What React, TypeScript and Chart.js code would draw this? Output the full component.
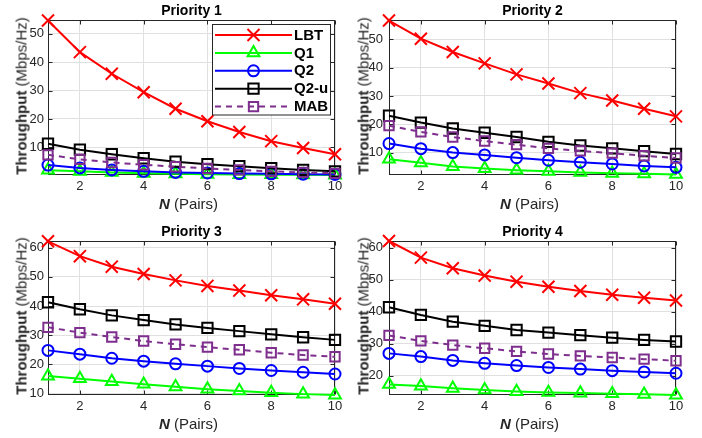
import React, { useEffect, useRef } from "react";
import { Chart, registerables } from "chart.js";
Chart.register(...registerables);

// ---------- data ----------
const N = [1, 2, 3, 4, 5, 6, 7, 8, 9, 10];
const seriesNames = ["LBT", "Q1", "Q2", "Q2-u", "MAB"];
const xTicks = [2, 4, 6, 8, 10];

const p1LBT = [54.6, 43.5, 35.9, 29.4, 23.6, 19.2, 15.4, 12.2, 9.8, 7.6];
const p1Q1 = [2.0, 1.6, 1.2, 0.9, 0.7, 0.55, 0.45, 0.4, 0.35, 0.3];
const p1Q2 = [3.8, 2.8, 2.1, 1.6, 1.2, 1.0, 0.8, 0.7, 0.6, 0.5];
const p1Q2u = [11.3, 9.2, 7.6, 6.2, 5.0, 4.1, 3.4, 2.7, 2.1, 1.6];
const p1MAB = [7.4, 5.8, 4.7, 3.9, 3.2, 2.6, 2.1, 1.6, 1.2, 0.9];
const p1YTicks = [10, 20, 30, 40, 50];
const p1YRange = [0.3, 54.8];

const p2LBT = [56.6, 50.2, 45.5, 41.5, 37.6, 34.4, 31.0, 28.4, 25.5, 22.8];
const p2Q1 = [7.7, 6.4, 5.1, 4.4, 3.8, 3.4, 3.0, 2.7, 2.5, 2.3];
const p2Q2 = [13.2, 11.4, 10.0, 9.2, 8.2, 7.3, 6.6, 6.0, 5.3, 4.8];
const p2Q2u = [23.0, 20.6, 18.5, 17.0, 15.5, 13.8, 12.5, 11.5, 10.5, 9.5];
const p2MAB = [19.5, 17.3, 15.5, 14.1, 12.8, 11.5, 10.6, 9.8, 8.9, 8.1];
const p2YTicks = [10, 20, 30, 40, 50];
const p2YRange = [2.1, 56.8];

const p3LBT = [62.2, 57.1, 53.5, 51.0, 48.8, 46.9, 45.3, 43.7, 42.3, 40.8];
const p3Q1 = [16.0, 15.1, 14.1, 13.2, 12.3, 11.5, 10.9, 10.3, 9.8, 9.5];
const p3Q2 = [24.8, 23.5, 22.1, 21.1, 20.2, 19.4, 18.6, 17.9, 17.3, 16.7];
const p3Q2u = [41.3, 38.9, 36.8, 35.2, 33.7, 32.5, 31.4, 30.3, 29.3, 28.4];
const p3MAB = [32.7, 30.9, 29.4, 28.0, 26.9, 25.9, 25.0, 24.0, 23.2, 22.6];
const p3YTicks = [10, 20, 30, 40, 50, 60];
const p3YRange = [9.5, 62.3];

const p4LBT = [62.1, 56.9, 53.6, 51.3, 49.4, 47.8, 46.5, 45.3, 44.4, 43.5];
const p4Q1 = [17.3, 16.8, 16.1, 15.6, 15.1, 14.8, 14.6, 14.4, 14.2, 14.0];
const p4Q2 = [27.0, 26.0, 24.8, 23.9, 23.2, 22.6, 22.1, 21.6, 21.2, 20.8];
const p4Q2u = [41.4, 39.0, 36.9, 35.6, 34.3, 33.5, 32.7, 31.9, 31.2, 30.7];
const p4MAB = [32.6, 30.9, 29.6, 28.6, 27.6, 26.8, 26.2, 25.7, 25.2, 24.7];
const p4YTicks = [20, 30, 40, 50, 60];
const p4YRange = [14.0, 62.1];

// ---------- styles ----------
const FONT = '"Liberation Sans", Arial, Helvetica, sans-serif';
const TXT = "#262626";
const GRID = "#e0e0e0";
const seriesStyles = [
  { color: "#FF0000", point: "crossRot", radius: 8.5, dash: [] as number[] },
  { color: "#00FF00", point: "triangle", radius: 6.8, dash: [] as number[] },
  { color: "#0000FF", point: "circle", radius: 5.5, dash: [] as number[] },
  { color: "#000000", point: "rect", radius: 7.3, dash: [] as number[] },
  { color: "#7E2F8E", point: "rect", radius: 6.6, dash: [6, 5] },
];

type Panel = {
  title: string;
  series: number[][];
  yTicks: number[];
  yRange: number[];
  left: number; top: number; w: number; h: number;
  areaL: number; areaT: number; areaR: number; areaB: number;
  yPad: number;
  legend: boolean;
};

const panels: Panel[] = [
  { title: "Priority 1", series: [p1LBT, p1Q1, p1Q2, p1Q2u, p1MAB], yTicks: p1YTicks, yRange: p1YRange,
    left: 0, top: 0, w: 351, h: 219, areaL: 48, areaT: 20, areaR: 335, areaB: 175, yPad: 4, legend: true },
  { title: "Priority 2", series: [p2LBT, p2Q1, p2Q2, p2Q2u, p2MAB], yTicks: p2YTicks, yRange: p2YRange,
    left: 351, top: 0, w: 351, h: 219, areaL: 38, areaT: 20, areaR: 325, areaB: 175, yPad: 6, legend: false },
  { title: "Priority 3", series: [p3LBT, p3Q1, p3Q2, p3Q2u, p3MAB], yTicks: p3YTicks, yRange: p3YRange,
    left: 0, top: 219, w: 351, h: 219, areaL: 48, areaT: 22, areaR: 335, areaB: 176, yPad: 4, legend: false },
  { title: "Priority 4", series: [p4LBT, p4Q1, p4Q2, p4Q2u, p4MAB], yTicks: p4YTicks, yRange: p4YRange,
    left: 351, top: 219, w: 351, h: 219, areaL: 38, areaT: 22, areaR: 325, areaB: 176, yPad: 6, legend: false },
];

function drawMarker(ctx: CanvasRenderingContext2D, kind: string, x: number, y: number, r: number) {
  ctx.beginPath();
  if (kind === "crossRot") {
    const o = Math.SQRT1_2 * r;
    ctx.moveTo(x - o, y - o); ctx.lineTo(x + o, y + o);
    ctx.moveTo(x + o, y - o); ctx.lineTo(x - o, y + o);
  } else if (kind === "triangle") {
    ctx.moveTo(x, y - r);
    ctx.lineTo(x + r * Math.cos(Math.PI / 6), y + r / 2);
    ctx.lineTo(x - r * Math.cos(Math.PI / 6), y + r / 2);
    ctx.closePath();
  } else if (kind === "circle") {
    ctx.arc(x, y, r, 0, Math.PI * 2);
  } else {
    const s = Math.SQRT1_2 * r;
    ctx.rect(x - s, y - s, 2 * s, 2 * s);
  }
  ctx.stroke();
}

const framePlugin = {
  id: "frame",
  beforeDatasetsDraw(chart: any) {
    const { ctx, chartArea: a, scales } = chart;
    ctx.save();
    ctx.strokeStyle = TXT;
    ctx.lineWidth = 1;
    ctx.setLineDash([]);
    const L = Math.round(a.left) + 0.5, R = Math.round(a.right) - 0.5;
    const T = Math.round(a.top) + 0.5, B = Math.round(a.bottom) - 0.5;
    ctx.strokeRect(L, T, R - L, B - T);
    const tl = 4;
    ctx.beginPath();
    scales.x.ticks.forEach((t: any) => {
      const px = Math.round(scales.x.getPixelForValue(t.value)) + 0.5;
      ctx.moveTo(px, B); ctx.lineTo(px, B - tl);
      ctx.moveTo(px, T); ctx.lineTo(px, T + tl);
    });
    scales.y.ticks.forEach((t: any) => {
      const py = Math.round(scales.y.getPixelForValue(t.value)) + 0.5;
      ctx.moveTo(L, py); ctx.lineTo(L + tl, py);
      ctx.moveTo(R, py); ctx.lineTo(R - tl, py);
    });
    ctx.stroke();
    ctx.restore();
  },
};

const legendPlugin = {
  id: "insetLegend",
  afterDraw(chart: any) {
    if (!chart.options.plugins.insetLegend?.show) return;
    const ctx: CanvasRenderingContext2D = chart.ctx;
    const bx = 212.5, by = 24.5, bw = 118, bh = 90.5;
    ctx.save();
    ctx.fillStyle = "#ffffff";
    ctx.fillRect(bx, by, bw, bh);
    ctx.strokeStyle = TXT;
    ctx.lineWidth = 1;
    ctx.strokeRect(bx, by, bw, bh);
    seriesNames.forEach((name, i) => {
      const st = seriesStyles[i];
      const y = 35 + i * 17.9;
      ctx.strokeStyle = st.color;
      ctx.lineWidth = 2;
      ctx.setLineDash(st.dash);
      ctx.beginPath();
      ctx.moveTo(215, y); ctx.lineTo(292, y);
      ctx.stroke();
      ctx.setLineDash([]);
      drawMarker(ctx, st.point, 253.5, y, st.radius);
      ctx.fillStyle = "#000000";
      ctx.font = `bold 15px ${FONT}`;
      ctx.textBaseline = "middle";
      ctx.textAlign = "left";
      ctx.fillText(name, 294, y + 0.5);
    });
    ctx.restore();
  },
};

function PanelChart({ p }: { p: Panel }) {
  const ref = useRef<HTMLCanvasElement | null>(null);
  useEffect(() => {
    if (!ref.current) return;
    const datasets = p.series.map((vals, i) => {
      const st = seriesStyles[i];
      return {
        label: seriesNames[i],
        data: N.map((n, k) => ({ x: n, y: vals[k] })),
        borderColor: st.color,
        backgroundColor: "rgba(0,0,0,0)",
        borderWidth: 2,
        borderDash: st.dash,
        pointStyle: st.point,
        pointRadius: st.radius,
        pointBorderWidth: 2,
        pointBorderColor: st.color,
        pointBackgroundColor: "rgba(0,0,0,0)",
        tension: 0,
        clip: false as any,
        order: 5 - i,
      };
    });
    const chart = new Chart(ref.current, {
      type: "line",
      data: { datasets },
      plugins: [framePlugin, legendPlugin],
      options: {
        responsive: false,
        animation: false,
        events: [],
        layout: { padding: { top: p.areaT, right: p.w - p.areaR, left: 0, bottom: 0 } },
        plugins: {
          legend: { display: false },
          title: { display: false },
          tooltip: { enabled: false },
          insetLegend: { show: p.legend },
        } as any,
        scales: {
          x: {
            type: "linear",
            min: 1,
            max: 10,
            afterBuildTicks: (s: any) => { s.ticks = xTicks.map((v) => ({ value: v })); },
            afterFit: (s: any) => { s.height = p.h - p.areaB; },
            grid: { color: GRID, drawTicks: false, lineWidth: 1 },
            border: { display: false },
            ticks: { padding: 4, color: TXT, font: { size: 13, family: FONT }, maxRotation: 0, autoSkip: false },
          },
          y: {
            type: "linear",
            min: p.yRange[0],
            max: p.yRange[1],
            afterBuildTicks: (s: any) => { s.ticks = p.yTicks.map((v) => ({ value: v })); },
            afterFit: (s: any) => { s.width = p.areaL; },
            grid: { color: GRID, drawTicks: false, lineWidth: 1 },
            border: { display: false },
            ticks: { padding: p.yPad, color: TXT, font: { size: 13, family: FONT }, autoSkip: false },
          },
        },
      },
    } as any);
    return () => chart.destroy();
  }, [p]);
  return (
    <canvas
      ref={ref}
      width={p.w}
      height={p.h}
      style={{ position: "absolute", left: p.left, top: p.top, width: p.w, height: p.h, display: "block" }}
    />
  );
}

export default function App() {
  return (
    <div style={{ position: "absolute", left: 0, top: 0, width: 702, height: 438, background: "#fff", fontFamily: FONT, color: TXT, overflow: "hidden" }}>
      {panels.map((p, i) => {
        const cx = p.left + (p.areaL + p.areaR) / 2;
        const cy = p.top + (p.areaT + p.areaB) / 2;
        return (
          <React.Fragment key={i}>
            <PanelChart p={p} />
            <div style={{ position: "absolute", left: cx, top: p.top + p.areaT - 10, transform: "translate(-50%,-50%)", fontSize: 14, fontWeight: "bold", whiteSpace: "nowrap", lineHeight: 1, color: "#000" }}>
              {p.title}
            </div>
            <div style={{ position: "absolute", left: p.left + (p.legend || p.left === 0 ? 21 : 11.5), top: cy - 2, transform: "translate(-50%,-50%) rotate(-90deg)", fontSize: 15, whiteSpace: "nowrap", lineHeight: 1 }}>
              <b>Throughput</b> (Mbps/Hz)
            </div>
            <div style={{ position: "absolute", left: cx - 3, top: p.top + p.areaB + 28, transform: "translate(-50%,-50%)", fontSize: 15, whiteSpace: "nowrap", lineHeight: 1 }}>
              <b><i>N</i></b> (Pairs)
            </div>
          </React.Fragment>
        );
      })}
    </div>
  );
}
